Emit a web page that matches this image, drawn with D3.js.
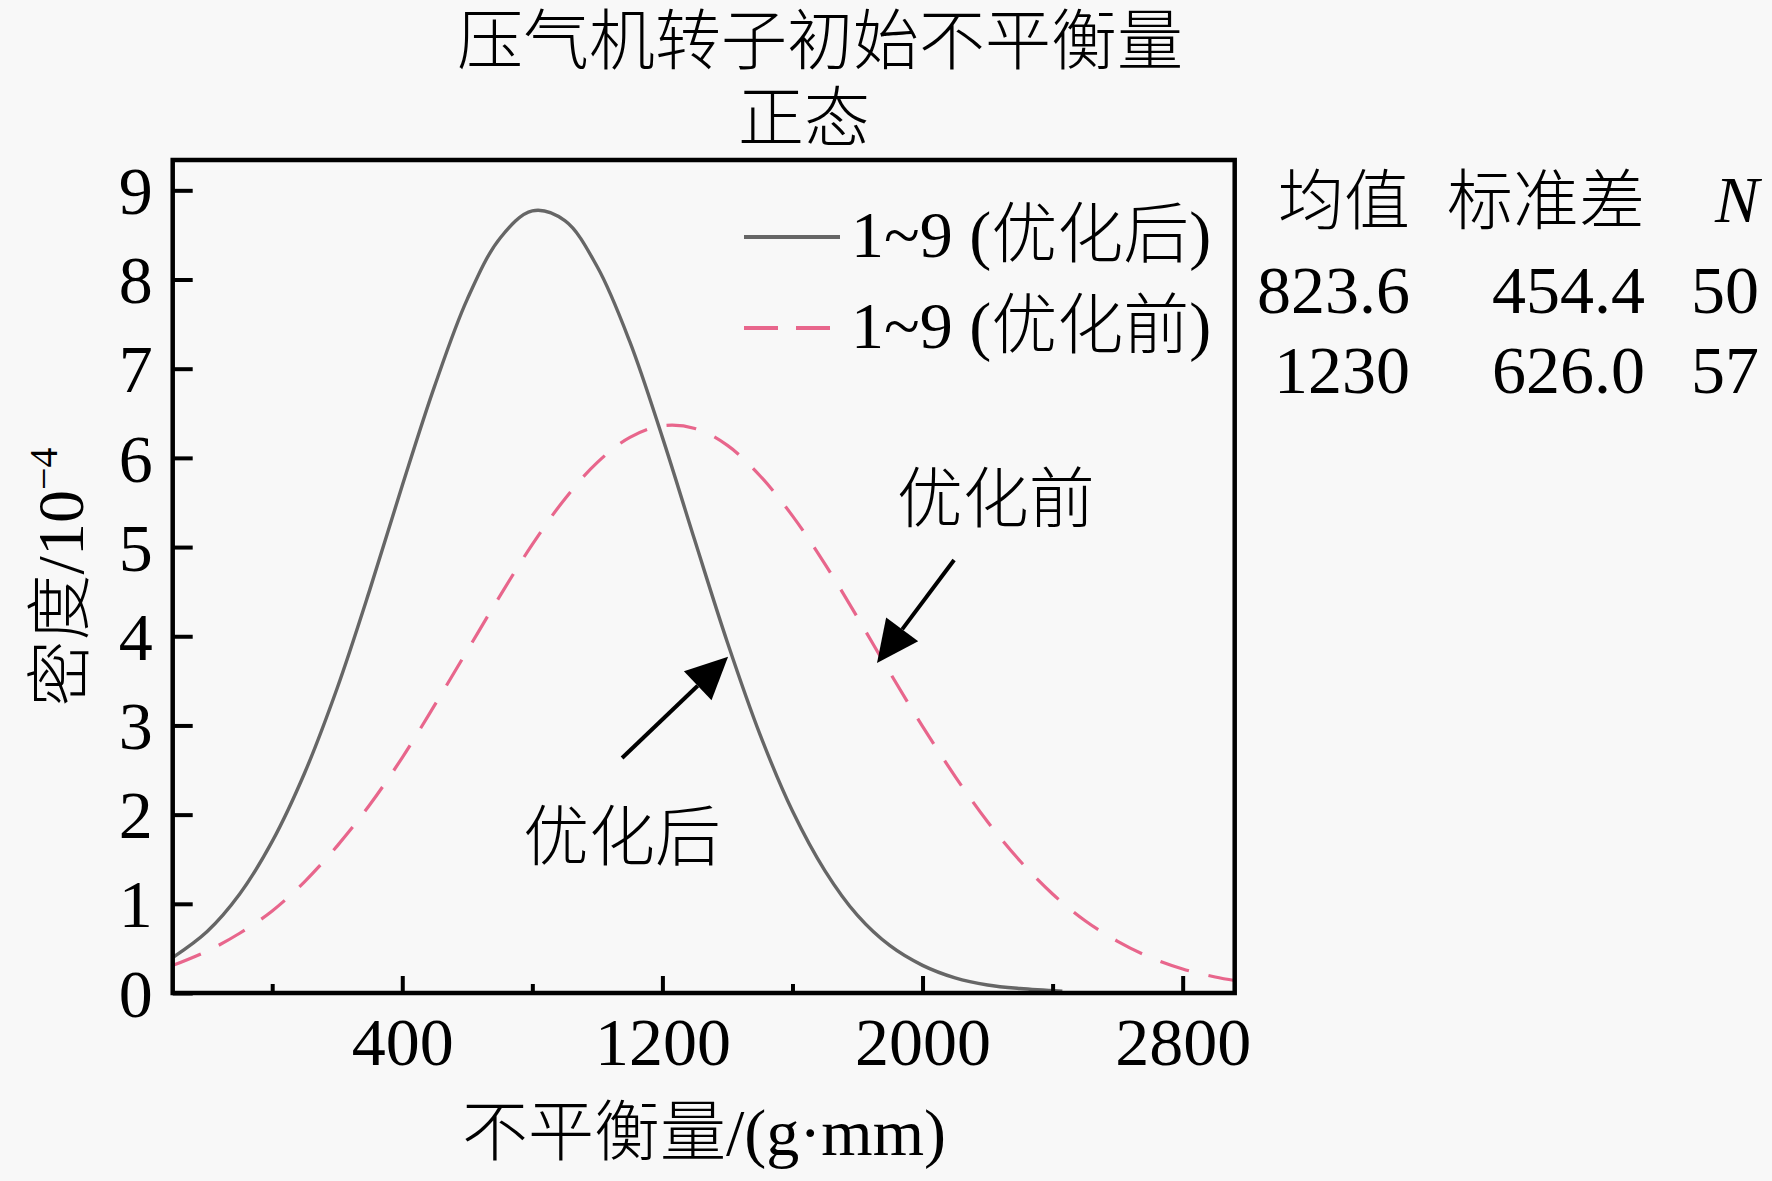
<!DOCTYPE html>
<html><head><meta charset="utf-8">
<script src="https://cdn.jsdelivr.net/npm/d3@7/dist/d3.min.js"></script>
<style>
html,body{margin:0;padding:0;background:#f8f8f8;}
svg{display:block;}
text{font-family:"Liberation Serif","Times New Roman","Noto Sans CJK SC",serif;fill:#000;font-weight:300;}
</style></head>
<body>
<svg id="chart" width="1772" height="1181"></svg>
<script>
// ---------- data ----------
const titleLines = ["压气机转子初始不平衡量", "正态"];
const xLabel = "不平衡量/(g·mm)";
const yLabelMain = "密度/10";
const yLabelSup = "−4";
const xMajorTicks = [400, 1200, 2000, 2800];
const xMinorTicks = [0, 800, 1600, 2400];
const yTicks = [0, 1, 2, 3, 4, 5, 6, 7, 8, 9];
const xDomain = [-306, 2960];
const yDomain = [0, 9.34];

const seriesNames = ["1~9 (优化后)", "1~9 (优化前)"];
// x positions (g·mm) and density readings (10^-4)
const afterX = [-305,-200,-100,0,100,200,300,400,500,600,700,800,900,1000,1100,1200,1300,1400,1500,1600,1700,1800,1900,2000,2100,2200,2300,2430];
const afterY = [0.40,0.69,1.11,1.70,2.47,3.42,4.52,5.69,6.81,7.78,8.46,8.77,8.66,8.14,7.30,6.23,5.07,3.93,2.90,2.04,1.37,0.87,0.53,0.31,0.17,0.09,0.05,0.02];
const beforeX = [-305,-200,-100,0,100,200,300,400,500,600,700,800,900,1000,1100,1200,1300,1400,1500,1600,1700,1800,1900,2000,2100,2200,2300,2400,2500,2600,2700,2800,2900,2960];
const beforeY = [0.31,0.47,0.67,0.92,1.25,1.65,2.11,2.64,3.23,3.84,4.45,5.03,5.54,5.95,6.23,6.36,6.33,6.14,5.80,5.35,4.81,4.21,3.59,2.99,2.43,1.92,1.48,1.11,0.81,0.58,0.40,0.27,0.18,0.14];

const statHeaders = ["均值", "标准差", "N"];
const statMeans = ["823.6", "1230"];
const statSDs = ["454.4", "626.0"];
const statNs = ["50", "57"];

const annotLabels = ["优化前", "优化后"];
// annotation anchors in data coordinates: [textX, textY, tailX, tailY, tipX, tipY]
const annotPos = [
  [1921, 5.28, 2097, 4.855, 1860, 3.70],
  [771, 1.49, 1076, 2.635, 1402, 3.77]
];

// ---------- drawing ----------
const svg = d3.select("#chart");
const W = 1772, H = 1181;
const L = 172.7, R = 1234.7, T = 160, B = 993;
const colAfter = "#666666", colBefore = "#e8668c";

svg.append("rect").attr("width", W).attr("height", H).attr("fill", "#f8f8f8");

const x = d3.scaleLinear().domain(xDomain).range([L, R]);
const y = d3.scaleLinear().domain(yDomain).range([B, T]);

svg.append("clipPath").attr("id", "pc").append("rect")
  .attr("x", L).attr("y", T).attr("width", R - L).attr("height", B - T);

const line = d3.line().x(d => x(d[0])).y(d => y(d[1])).curve(d3.curveCatmullRom.alpha(0.5));
const afterData = afterX.map((v, i) => [v, afterY[i]]);
const beforeData = beforeX.map((v, i) => [v, beforeY[i]]);

const g = svg.append("g").attr("clip-path", "url(#pc)");
g.append("path").datum(beforeData).attr("d", line)
  .attr("fill", "none").attr("stroke", colBefore).attr("stroke-width", 3.2)
  .attr("stroke-dasharray", "30,20");
g.append("path").datum(afterData).attr("d", line)
  .attr("fill", "none").attr("stroke", colAfter).attr("stroke-width", 3.4);

// axes
const fs = 68;
const xAxis = svg.append("g").attr("transform", `translate(0,${B})`)
  .call(d3.axisBottom(x).tickValues(xMajorTicks).tickSize(-17).tickPadding(24).tickFormat(d3.format("d")));
const xMinor = svg.append("g").attr("transform", `translate(0,${B})`)
  .call(d3.axisBottom(x).tickValues(xMinorTicks).tickSize(-9).tickFormat(""));
const yAxis = svg.append("g").attr("transform", `translate(${L},0)`)
  .call(d3.axisLeft(y).tickValues(yTicks).tickSize(-20).tickPadding(20).tickFormat(d3.format("d")));
[xAxis, xMinor, yAxis].forEach(a => {
  a.select(".domain").remove();
  a.selectAll(".tick line").attr("stroke", "#000").attr("stroke-width", 4);
  a.selectAll(".tick text").attr("font-size", fs).attr("font-family", "Liberation Serif, serif").attr("fill", "#000");
});
yAxis.selectAll(".tick text").attr("dy", "0.34em");

// frame
svg.append("rect").attr("x", L).attr("y", T).attr("width", R - L).attr("height", B - T)
  .attr("fill", "none").attr("stroke", "#000").attr("stroke-width", 4.5);

// title
svg.append("text").attr("x", 457).attr("y", 64).attr("font-size", 66).text(titleLines[0]);
svg.append("text").attr("x", 738).attr("y", 141).attr("font-size", 66).text(titleLines[1]);

// axis labels
svg.append("text").attr("x", 704).attr("y", 1155).attr("text-anchor", "middle")
  .attr("font-size", 66).text(xLabel);
const yl = svg.append("text").attr("transform", "translate(83,577) rotate(-90)")
  .attr("text-anchor", "middle").attr("font-size", 66);
yl.append("tspan").text(yLabelMain);
yl.append("tspan").attr("font-size", 40).attr("dy", -26).text(yLabelSup);

// legend
const legY = [237, 328];
svg.append("line").attr("x1", 744).attr("x2", 840).attr("y1", legY[0]).attr("y2", legY[0])
  .attr("stroke", colAfter).attr("stroke-width", 4);
svg.append("line").attr("x1", 744).attr("x2", 830).attr("y1", legY[1]).attr("y2", legY[1])
  .attr("stroke", colBefore).attr("stroke-width", 4).attr("stroke-dasharray", "34,18");
seriesNames.forEach((s, i) => {
  svg.append("text").attr("x", 851).attr("y", legY[i] + 20).attr("font-size", 66).text(s);
});

// stats table
const colX = [1410, 1645, 1759];
svg.append("text").attr("x", colX[0]).attr("y", 224).attr("text-anchor", "end").attr("font-size", 66).text(statHeaders[0]);
svg.append("text").attr("x", colX[1]).attr("y", 224).attr("text-anchor", "end").attr("font-size", 66).text(statHeaders[1]);
svg.append("text").attr("x", colX[2]).attr("y", 222).attr("text-anchor", "end").attr("font-size", 66)
  .attr("font-style", "italic").text(statHeaders[2]);
const rowY = [313, 393];
statMeans.forEach((m, i) => {
  svg.append("text").attr("x", colX[0]).attr("y", rowY[i]).attr("text-anchor", "end").attr("font-size", fs).text(m);
  svg.append("text").attr("x", colX[1]).attr("y", rowY[i]).attr("text-anchor", "end").attr("font-size", fs).text(statSDs[i]);
  svg.append("text").attr("x", colX[2]).attr("y", rowY[i]).attr("text-anchor", "end").attr("font-size", fs).text(statNs[i]);
});

// annotations with arrows
annotPos.forEach((p, i) => {
  svg.append("text").attr("x", x(p[0])).attr("y", y(p[1])).attr("font-size", 66).text(annotLabels[i]);
  const tx = x(p[2]), ty = y(p[3]), hx = x(p[4]), hy = y(p[5]);
  const ang = Math.atan2(hy - ty, hx - tx);
  const hl = 42, hw = 20;
  const bx = hx - hl * Math.cos(ang), by = hy - hl * Math.sin(ang);
  svg.append("line").attr("x1", tx).attr("y1", ty).attr("x2", bx).attr("y2", by)
    .attr("stroke", "#000").attr("stroke-width", 4);
  const px = -Math.sin(ang), py = Math.cos(ang);
  svg.append("polygon").attr("points",
    `${hx},${hy} ${bx + px * hw},${by + py * hw} ${bx - px * hw},${by - py * hw}`)
    .attr("fill", "#000");
});
</script>
</body></html>
